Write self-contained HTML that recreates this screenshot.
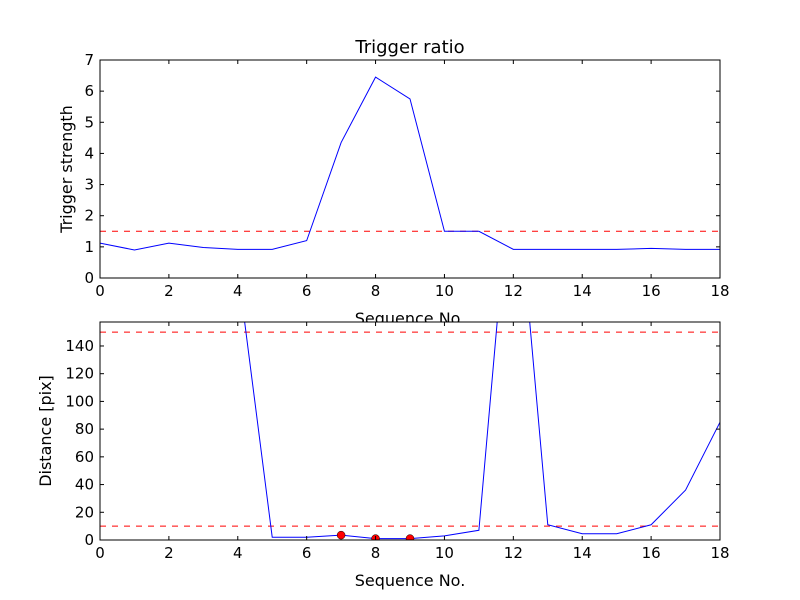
<!DOCTYPE html>
<html><head><meta charset="utf-8"><style>body{margin:0;background:#fff}svg{display:block;font-family:"DejaVu Sans","Liberation Sans",sans-serif}</style></head>
<body>
<svg id="c" width="800" height="600"></svg>
<script>
const xs=[0,1,2,3,4,5,6,7,8,9,10,11,12,13,14,15,16,17,18];
const trigger=[1.12,0.9,1.12,0.98,0.92,0.92,1.2,4.35,6.45,5.75,1.5,1.5,0.92,0.92,0.92,0.92,0.95,0.92,0.92];
const distance=[null,null,null,null,196,2,2,3.5,1,1,3,7,290,11,4.5,4.5,11,36,85];
const markX=[7,8,9];
const markY=[3.5,1,1];
const xTicks=[0,2,4,6,8,10,12,14,16,18];
const topYTicks=[0,1,2,3,4,5,6,7];
const botYTicks=[0,20,40,60,80,100,120,140];
const topThresh=[1.5];
const botThresh=[150,10];
const NS="http://www.w3.org/2000/svg";
const svg=document.getElementById('c');
function el(t,a,p){const e=document.createElementNS(NS,t);for(const k in a)e.setAttribute(k,a[k]);(p||svg).appendChild(e);return e;}
function axes(name,L,R,T,B,xmin,xmax,ymin,ymax,yt,data,thr,title,ylab,dots){
  const g=el('g',{});
  
  
  const sx=v=>L+(v-xmin)/(xmax-xmin)*(R-L), sy=v=>B-(v-ymin)/(ymax-ymin)*(B-T);
  el('rect',{x:L,y:T,width:R-L,height:B-T,fill:'#fff'},g);
  const cid=name+'-clip';const cp=el('clipPath',{id:cid},g);el('rect',{x:L,y:T,width:R-L,height:B-T},cp);
  const pg=el('g',{'clip-path':'url(#'+cid+')'},g);
  thr.forEach(t=>{const l=el('line',{x1:L,x2:R,y1:sy(t),y2:sy(t),stroke:'#f00','stroke-dasharray':'6,6','stroke-width':1},pg);
    
    });
  let d='';xs.forEach((x,i)=>{const v=data[i];if(v==null)return;d+=(d?'L':'M')+sx(x)+','+sy(v);});
  const p=el('path',{d:d,fill:'none',stroke:'#00f','stroke-width':1},pg);
  
  
  if(dots)markX.forEach((x,i)=>{const c=el('circle',{cx:sx(x),cy:sy(markY[i]),r:4,fill:'#f00',stroke:'#000','stroke-width':0.5},pg);
    
    });
  el('rect',{x:L,y:T,width:R-L,height:B-T,fill:'none',stroke:'#000'},g);
  xTicks.forEach(t=>{const X=sx(t);el('line',{x1:X,x2:X,y1:B,y2:B-4,stroke:'#000'},g);el('line',{x1:X,x2:X,y1:T,y2:T+4,stroke:'#000'},g);
    const tx=el('text',{x:X,y:B+18,'text-anchor':'middle','font-size':15},g);tx.textContent=t;
    
    });
  yt.forEach(t=>{const Y=sy(t);el('line',{x1:L,x2:L+4,y1:Y,y2:Y,stroke:'#000'},g);el('line',{x1:R,x2:R-4,y1:Y,y2:Y,stroke:'#000'},g);
    const tx=el('text',{x:L-6,y:Y+5,'text-anchor':'end','font-size':15},g);tx.textContent=t;
    
    });
  const xl=el('text',{x:(L+R)/2,y:B+46,'text-anchor':'middle','font-size':16},g);xl.textContent='Sequence No.';
  
  
  const yl=el('text',{x:0,y:0,'text-anchor':'middle','font-size':16},g);
  yl.setAttribute('transform','translate('+(name==='top-axes'?72:51)+','+((T+B)/2)+') rotate(-90)');
  yl.textContent=ylab;
  
  
  if(title){const tt=el('text',{x:(L+R)/2,y:T-7,'text-anchor':'middle','font-size':18},g);tt.textContent=title;
    
    }
}
axes('top-axes',100,720,60,278,0,18,0,7,topYTicks,trigger,topThresh,'Trigger ratio','Trigger strength',false);
axes('bottom-axes',100,720,322,540,0,18,0,157.3,botYTicks,distance,botThresh,null,'Distance [pix]',true);
</script>
</body></html>
